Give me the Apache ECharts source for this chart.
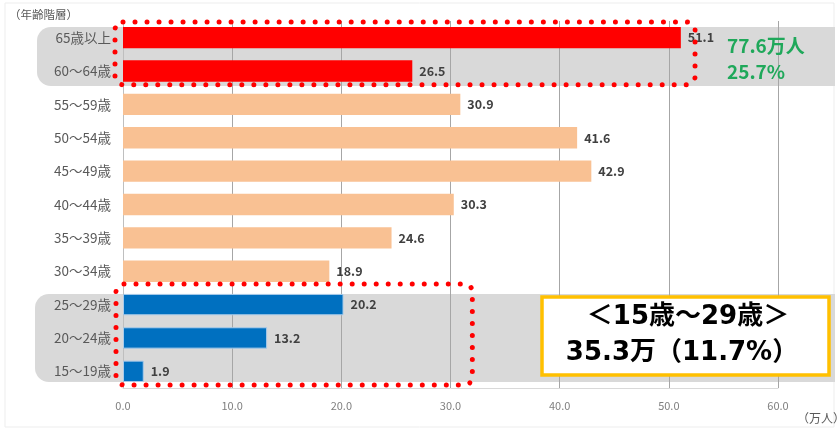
<!DOCTYPE html>
<html>
<head>
<meta charset="utf-8">
<script src="https://cdn.jsdelivr.net/npm/echarts@6/dist/echarts.min.js"></script>
<style>
  html, body { margin: 0; padding: 0; background: #fff; }
  #chart { width: 838px; height: 430px; }
</style>
</head>
<body>
<div id="chart"></div>
<script>
// Age groups, top to bottom
const categories = ['65歳以上', '60～64歳', '55～59歳', '50～54歳', '45～49歳', '40～44歳', '35～39歳', '30～34歳', '25～29歳', '20～24歳', '15～19歳'];
// Values in 万人
const values = [51.1, 26.5, 30.9, 41.6, 42.9, 30.3, 24.6, 18.9, 20.2, 13.2, 1.9];
// Colour group of each bar: senior / middle / youth
const groups = ['senior', 'senior', 'middle', 'middle', 'middle', 'middle', 'middle', 'middle', 'youth', 'youth', 'youth'];
const groupColors = { senior: '#FF0000', middle: '#F9C193', youth: '#0070C0' };
const xTicks = [0, 10, 20, 30, 40, 50, 60];

const seniorNote = ['77.6万人', '25.7%'];
const youthNote = ['＜15歳～29歳＞', '35.3万（11.7%）'];

const FONT = '"Noto Sans CJK JP", "Noto Sans", sans-serif';
const WIDE_FONT = '"DejaVu Sans", "Noto Sans CJK JP", sans-serif';

const chart = echarts.init(document.getElementById('chart'), null, { renderer: 'canvas' });

chart.setOption({
  animation: false,
  backgroundColor: '#ffffff',
  textStyle: { fontFamily: FONT },
  grid: { left: 123, right: 60, top: 21, bottom: 42, containLabel: false },
  xAxis: {
    type: 'value',
    min: xTicks[0],
    max: xTicks[xTicks.length - 1],
    interval: 10,
    axisLine: { show: true, lineStyle: { color: '#D9D9D9', width: 1 } },
    axisTick: { show: false },
    axisLabel: {
      margin: 12, color: '#7F7F7F', fontSize: 11, fontFamily: FONT,
      formatter: v => v.toFixed(1)
    },
    splitLine: { show: true, lineStyle: { color: '#A6A6A6', width: 1 } }
  },
  yAxis: {
    type: 'category',
    data: categories,
    inverse: true,
    axisLine: { show: true, lineStyle: { color: '#BFBFBF', width: 1 } },
    axisTick: { show: false },
    axisLabel: { margin: 12, color: '#595959', fontSize: 13.5, fontFamily: FONT }
  },
  series: [{
    type: 'bar',
    barWidth: '64%',
    z: 3,
    data: values.map((v, i) => ({
      value: v,
      itemStyle: {
        color: groupColors[groups[i]],
        borderColor: groups[i] === 'youth' ? '#A9CBEA' : groupColors[groups[i]],
        borderWidth: groups[i] === 'youth' ? 1 : 0
      }
    })),
    label: {
      show: true,
      position: 'right',
      distance: 7,
      color: '#404040',
      fontSize: 12.5,
      fontWeight: 'bold',
      fontFamily: FONT,
      formatter: p => p.value.toFixed(1)
    }
  }]
});

// Annotation layer placed from the axis scales
function yOf(i) { return chart.convertToPixel({ yAxisIndex: 0 }, categories[i]); }
function xOf(v) { return chart.convertToPixel({ xAxisIndex: 0 }, v); }

const step = yOf(1) - yOf(0);
const half = step * 0.32;
const x0 = xOf(0);
const W = 838, H = 430;

const dotted = {
  stroke: '#FF0000', fill: null, lineWidth: 5,
  lineDash: [0.01, 12], lineCap: 'round'
};

function label(x, y, text, font, fill, align) {
  return {
    type: 'text', z: 13, silent: true,
    style: { x: x, y: y, text: text, font: font, fill: fill, align: align || 'left', verticalAlign: 'middle' }
  };
}

const boxX = 542, boxY = 297, boxW = 287, boxH = 78;

const graphics = [
  // outer frame
  { type: 'rect', z: -20, silent: true,
    shape: { x: 5, y: 3, width: W - 9, height: H - 6 },
    style: { fill: null, stroke: '#EDEDED', lineWidth: 1 } },
  // grey group bands
  { type: 'rect', z: -10, silent: true,
    shape: { x: 37, y: yOf(0) - half, width: W - 37 - 3, height: yOf(1) - yOf(0) + half + 15, r: [14, 0, 0, 14] },
    style: { fill: '#D9D9D9' } },
  { type: 'rect', z: -10, silent: true,
    shape: { x: 35, y: yOf(8) - half, width: W - 35 - 3, height: yOf(10) - yOf(8) + 2 * half, r: [14, 0, 0, 14] },
    style: { fill: '#D9D9D9' } },
  // dotted outlines
  { type: 'rect', z: 10, silent: true,
    shape: { x: x0 - 8, y: yOf(0) - half - 5, width: xOf(52.4) - x0 + 8, height: yOf(1) - yOf(0) + 2 * half + 8, r: 8 },
    style: dotted },
  { type: 'rect', z: 10, silent: true,
    shape: { x: x0 - 7, y: yOf(8) - half - 10, width: xOf(32.0) - x0 + 7, height: yOf(10) - yOf(8) + 2 * half + 13, r: 8 },
    style: dotted },
  // senior share note
  label(727, yOf(0) + 8, seniorNote[0], 'bold 19px ' + FONT, '#1FA85A'),
  label(727, yOf(1) + 1, seniorNote[1], 'bold 19px ' + FONT, '#1FA85A'),
  // youth share box
  { type: 'rect', z: 12, silent: true,
    shape: { x: boxX, y: boxY, width: boxW, height: boxH },
    style: { fill: '#FFFFFF', stroke: '#FFC000', lineWidth: 3.5 } },
  label(688, 317, youthNote[0], 'bold 26px ' + WIDE_FONT, '#000000', 'center'),
  label(682, 353, youthNote[1], 'bold 26px ' + WIDE_FONT, '#000000', 'center'),
  // axis captions
  label(9, 15, '（年齢階層）', '11.5px ' + FONT, '#595959'),
  label(797, 418, '（万人）', '12px ' + FONT, '#595959')
];

chart.setOption({ graphic: graphics });
</script>
</body>
</html>
